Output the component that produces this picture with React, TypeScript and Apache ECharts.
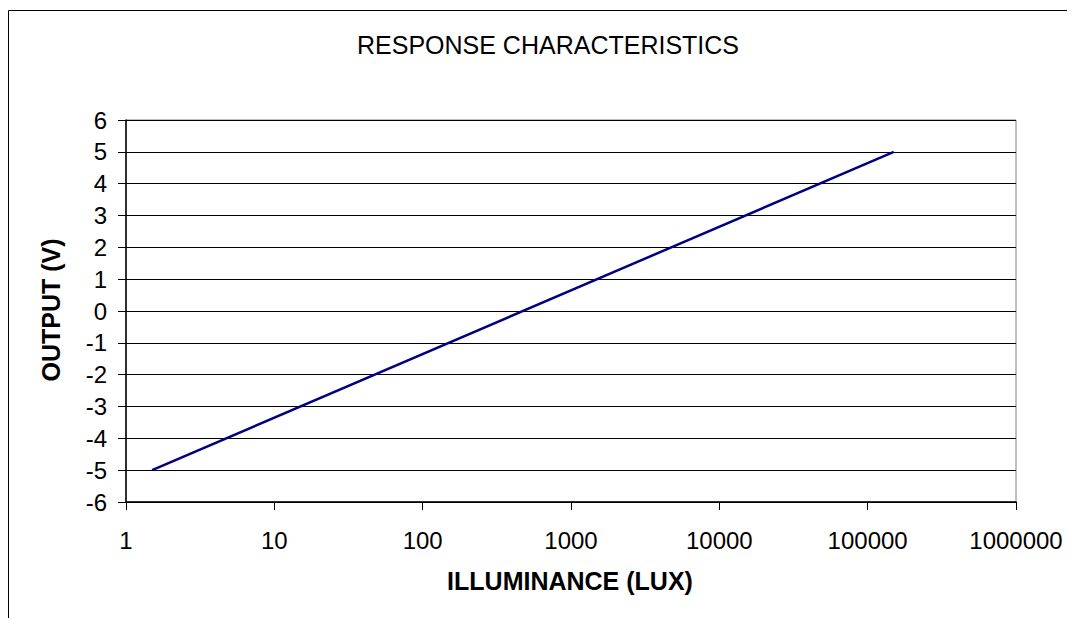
import React, { useEffect, useRef } from "react";
import * as echarts from "echarts";

const chartTitle = "RESPONSE CHARACTERISTICS";
const xAxisTitle = "ILLUMINANCE (LUX)";
const yAxisTitle = "OUTPUT (V)";
const illuminance = [1.5, 150000];
const outputVolts = [-5, 5];
const xTickLabels = ["1", "10", "100", "1000", "10000", "100000", "1000000"];

const FONT = "'Liberation Sans', Arial, sans-serif";

export default function App() {
  const ref = useRef<HTMLDivElement>(null);
  useEffect(() => {
    document.documentElement.style.overflow = "hidden";
    const chart = echarts.init(ref.current!, null, { renderer: "svg" });
    const data = illuminance.map((x, i) => [x, outputVolts[i]]);
    chart.setOption({
      animation: false,
      backgroundColor: "#fff",
      grid: {
        left: 118,
        top: 112,
        right: 59,
        bottom: 116,
        show: true,
        borderColor: "#808080",
        borderWidth: 1,
        containLabel: false,
      },
      xAxis: {
        type: "log",
        logBase: 10,
        min: 1,
        max: 1000000,
        axisLine: { show: true, onZero: false, lineStyle: { color: "#000", width: 1.5 } },
        axisTick: { show: true, inside: false, length: 8, lineStyle: { color: "#000" } },
        minorTick: { show: false },
        splitLine: { show: false },
        axisLabel: {
          color: "#000",
          fontFamily: FONT,
          fontSize: 24,
          margin: 26,
          showMinLabel: true,
          showMaxLabel: true,
          formatter: (v: number) => xTickLabels[Math.round(Math.log10(v))] ?? String(v),
        },
      },
      yAxis: {
        type: "value",
        min: -6,
        max: 6,
        interval: 1,
        axisLine: { show: true, onZero: false, lineStyle: { color: "#000", width: 1.5 } },
        axisTick: { show: true, inside: false, length: 8, lineStyle: { color: "#000" } },
        splitLine: { show: true, lineStyle: { color: "#000", width: 1 } },
        axisLabel: {
          color: "#000",
          fontFamily: FONT,
          fontSize: 24,
          margin: 19,
        },
      },
      series: [
        {
          type: "line",
          data,
          showSymbol: false,
          symbol: "none",
          lineStyle: { color: "#000080", width: 2.5 },
          z: 5,
        },
      ],
      graphic: [
        {
          type: "polyline",
          shape: { points: [[0.5, 620], [0.5, 2.5], [1070, 2.5]] },
          style: { stroke: "#000", lineWidth: 1, fill: "none" },
          silent: true,
        },
        {
          type: "text",
          x: 540,
          y: 37,
          style: {
            text: chartTitle,
            fontFamily: FONT,
            fontSize: 25,
            fill: "#000",
            align: "center",
            verticalAlign: "middle",
          },
        },
        {
          type: "text",
          x: 562,
          y: 573,
          style: {
            text: xAxisTitle,
            fontFamily: FONT,
            fontSize: 25,
            fontWeight: "bold",
            fill: "#000",
            align: "center",
            verticalAlign: "middle",
          },
        },
        {
          type: "text",
          x: 43,
          y: 302,
          rotation: Math.PI / 2,
          style: {
            text: yAxisTitle,
            fontFamily: FONT,
            fontSize: 25,
            fontWeight: "bold",
            fill: "#000",
            align: "center",
            verticalAlign: "middle",
          },
        },
      ],
    });
    return () => chart.dispose();
  }, []);
  return <div ref={ref} style={{ width: 1067, height: 610 }} />;
}
